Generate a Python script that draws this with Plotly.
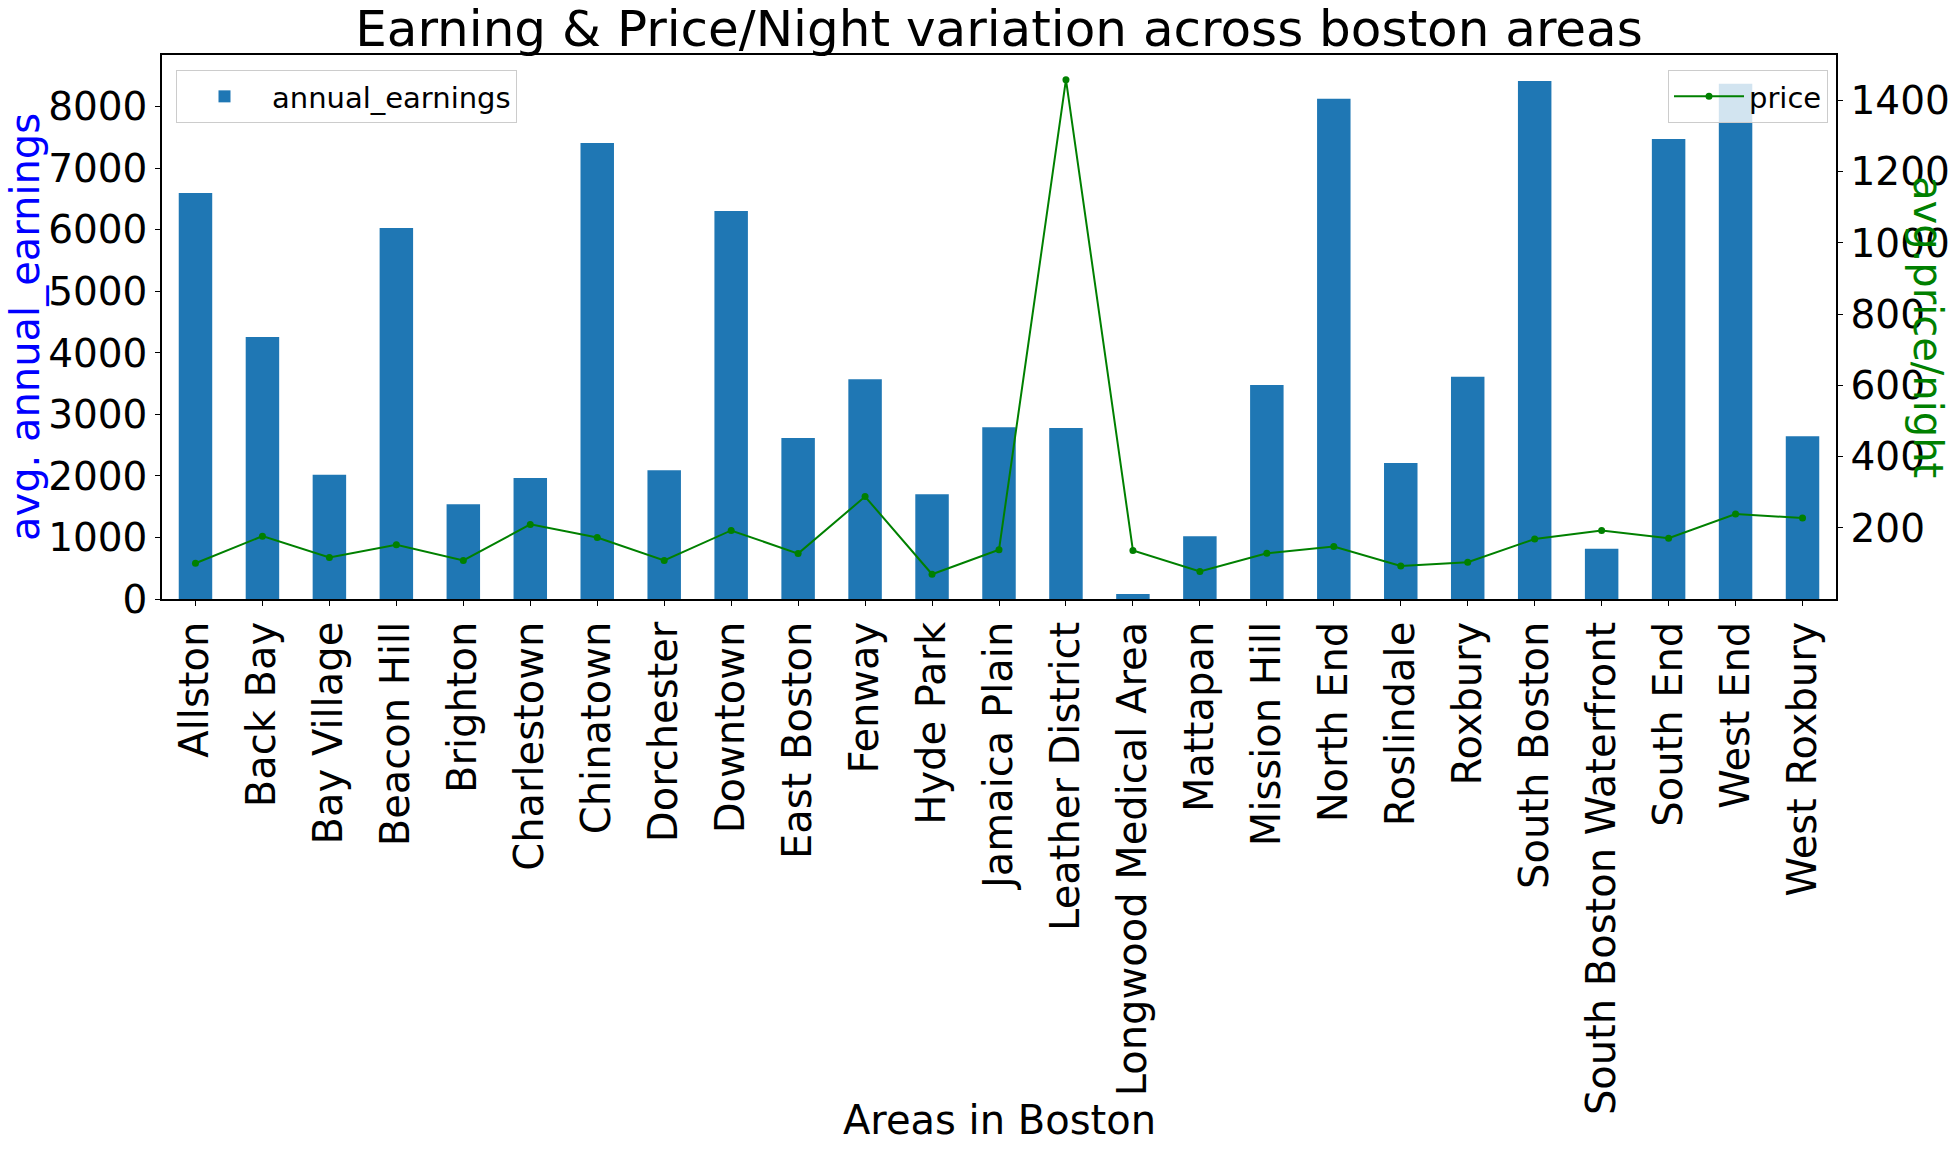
import plotly.graph_objects as go

# Boston areas, average annual earnings (bars) and average price per night (line)
areas = ["Allston", "Back Bay", "Bay Village", "Beacon Hill", "Brighton", "Charlestown",
         "Chinatown", "Dorchester", "Downtown", "East Boston", "Fenway", "Hyde Park",
         "Jamaica Plain", "Leather District", "Longwood Medical Area", "Mattapan",
         "Mission Hill", "North End", "Roslindale", "Roxbury", "South Boston",
         "South Boston Waterfront", "South End", "West End", "West Roxbury"]
annual_earnings = [6600, 4260, 2018, 6028, 1541, 1966, 7410, 2094, 6304, 2615, 3571, 1704,
                   2792, 2779, 83, 1021, 3476, 8130, 2211, 3611, 8420, 816, 7475, 8374, 2647]
price = [101, 177, 117, 153, 109, 210, 173, 109, 193, 128, 288, 70, 139, 1458, 137, 78,
         129, 148, 93, 104, 169, 193, 171, 239, 228]

FONT = "DejaVu Sans"
W, H = 1954, 1151
L, R, T, B = 162, 118, 55, 552
pw, ph = W - L - R, H - T - B

# matplotlib-like autoscaling (5% margins)
y1_top = max(annual_earnings) * 1.05
span = max(price) - min(price)
y2_rng = [min(price) - 0.05 * span, max(price) + 0.05 * span]

fig = go.Figure()
fig.add_trace(go.Bar(x=areas, y=annual_earnings, name="annual_earnings",
                     marker=dict(color="#1f77b4", line=dict(width=0)),
                     width=0.5, legend="legend", showlegend=True))
fig.add_trace(go.Scatter(x=areas, y=price, name="price", mode="lines+markers",
                         line=dict(color="green", width=2),
                         marker=dict(color="green", size=7),
                         yaxis="y2", legend="legend2", showlegend=True))

x_font = dict(family=FONT, size=40, color="black")
y_font = dict(family=FONT, size=39, color="black")
legend_style = dict(yanchor="top", bgcolor="rgba(255,255,255,0.8)",
                    bordercolor="#cccccc", borderwidth=1,
                    font=dict(family=FONT, size=29, color="black"), visible=True)
fig.update_layout(
    width=W, height=H,
    margin=dict(l=L, r=R, t=T, b=B),
    paper_bgcolor="white", plot_bgcolor="white",
    font=dict(family=FONT, color="black"),
    showlegend=True,
    title=dict(text="Earning & Price/Night variation across boston areas",
               x=(L + pw / 2) / W, xanchor="center",
               y=1 - 28 / H, yanchor="middle",
               font=dict(family=FONT, size=50, color="black")),
    xaxis=dict(range=[-0.5, len(areas) - 0.5], tickangle=-90, tickfont=x_font,
               showline=True, linecolor="black", linewidth=1.5, mirror=True,
               ticks="outside", ticklen=5, tickcolor="black", showgrid=False,
               automargin=False),
    yaxis=dict(range=[0, y1_top], dtick=1000, tick0=0, tickfont=y_font,
               showline=True, linecolor="black", linewidth=1.5, mirror=True,
               ticks="outside", ticklen=5, tickcolor="black", showgrid=False,
               zeroline=False, automargin=False),
    yaxis2=dict(range=y2_rng, dtick=200, tick0=0, tickfont=y_font, overlaying="y",
                side="right", showline=True, linecolor="black", linewidth=1.5,
                ticks="outside", ticklen=5, tickcolor="black", showgrid=False,
                zeroline=False, automargin=False),
    legend=dict(x=(176 - L) / pw, y=(H - B - 70) / ph, xanchor="left",
                itemwidth=85, **legend_style),
    legend2=dict(x=(1828 - L) / pw, y=(H - B - 70) / ph, xanchor="right",
                 itemwidth=70, **legend_style),
    annotations=[
        dict(text="avg. annual_earnings", xref="paper", yref="paper",
             x=(25 - L) / pw, y=0.5, xanchor="center", yanchor="middle",
             textangle=-90, showarrow=False,
             font=dict(family=FONT, size=40, color="blue")),
        dict(text="avg.price/night", xref="paper", yref="paper",
             x=(1928 - L) / pw, y=0.5, xanchor="center", yanchor="middle",
             textangle=90, showarrow=False,
             font=dict(family=FONT, size=40, color="green")),
        dict(text="Areas in Boston", xref="paper", yref="paper",
             x=0.5, y=-(1120 - (H - B)) / ph, xanchor="center", yanchor="middle",
             showarrow=False,
             font=dict(family=FONT, size=40, color="black")),
    ],
)

# drop the default 8px page margin so the figure sits flush in the window
fig.write_html("out.html", config={"displayModeBar": False},
               post_script="document.body.style.margin='0';")
